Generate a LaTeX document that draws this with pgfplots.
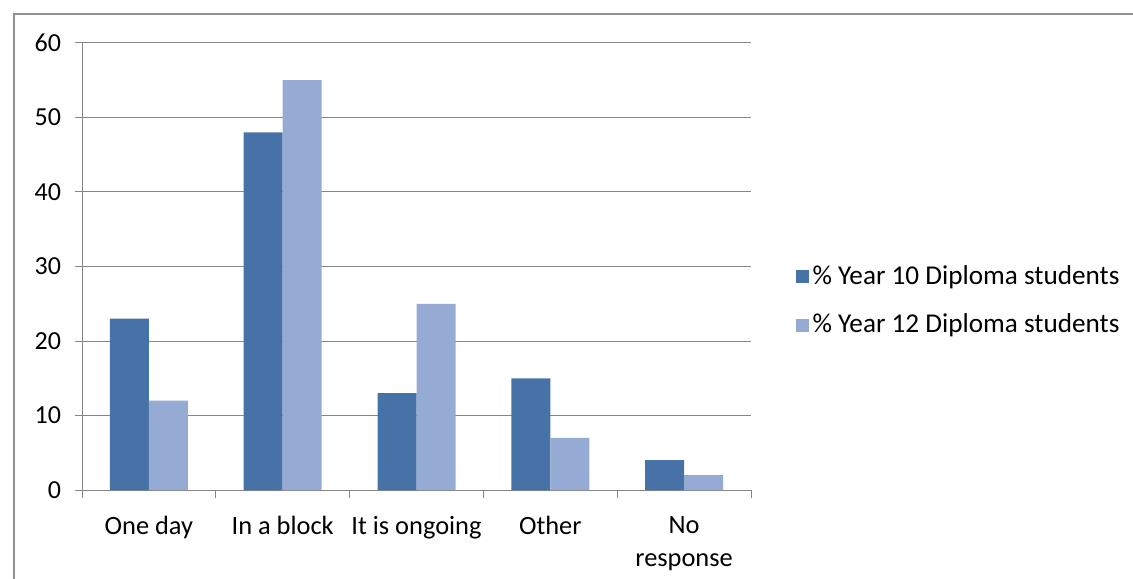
\documentclass[border=0pt]{standalone}
\usepackage{fontspec}
\setmainfont{Carlito}
\usepackage{pgfplots}
\pgfplotsset{compat=1.18}
\definecolor{ydark}{RGB}{70,114,167}
\definecolor{ylight}{RGB}{149,171,211}
\definecolor{gridgray}{RGB}{134,134,134}
\begin{document}
\fontsize{13}{16.5}\selectfont
\begin{tikzpicture}
\useasboundingbox (0,0) rectangle (566.5pt,289pt);
% outer chart frame
\draw[gridgray!90, line width=1.1pt] (7pt,-2pt) -- (7pt,281.8pt) -- (570pt,281.8pt);
\begin{axis}[
  at={(41pt,44pt)}, anchor=south west,
  scale only axis, width=334.5pt, height=223.5pt,
  ybar, bar width=19.5pt, ybar=0pt,
  xmin=-0.5, xmax=4.5, ymin=0, ymax=60,
  ytick={0,10,...,60},
  xtick={0,1,2,3,4},
  xticklabels={One day, In a block, It is ongoing, Other, No\\response},
  minor xtick={-0.5,0.5,1.5,2.5,3.5,4.5},
  axis x line*=bottom, axis y line*=left,
  axis line style={gridgray},
  tick align=outside,
  major tick length=3.5pt, minor tick length=4pt,
  major x tick style={draw=none},
  tick style={gridgray, line width=0.5pt},
  ymajorgrids, grid style={gridgray, line width=0.5pt},
  /pgf/number format/assume math mode=true,
  xticklabel style={align=center, yshift=-5pt, font=\fontsize{13.2}{16.5}\selectfont},
  yticklabel style={xshift=-2.5pt},
  legend style={at={(1.066,0.423)}, anchor=west, draw=none, fill=none,
    row sep=9pt, inner sep=0pt, font=\fontsize{13.6}{15}\selectfont},
  legend cell align=left,
  legend image code/.code={\fill[#1] (0pt,-3.25pt) rectangle (6.5pt,3.25pt);},
]
\addplot[fill=ydark, draw=none] coordinates {(0,23) (1,48) (2,13) (3,15) (4,4)};
\addplot[fill=ylight, draw=none] coordinates {(0,12) (1,55) (2,25) (3,7) (4,2)};
\legend{\% Year 10 Diploma students, \% Year 12 Diploma students}
\end{axis}
\end{tikzpicture}
\end{document}
